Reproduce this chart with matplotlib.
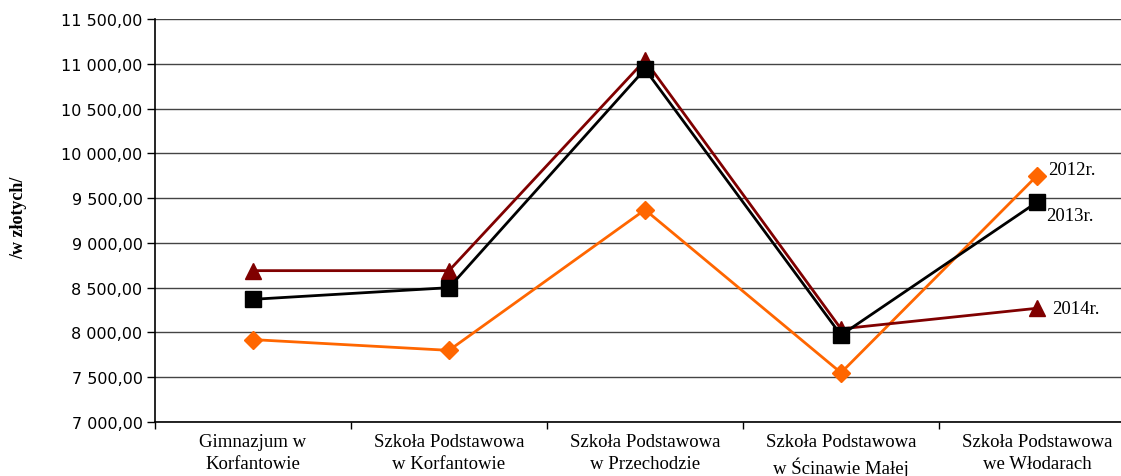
import matplotlib
matplotlib.use("Agg")
import matplotlib.pyplot as plt
from matplotlib.ticker import FuncFormatter, FixedLocator

categories = ["Gimnazjum w\nKorfantowie", "Szkoła Podstawowa\nw Korfantowie",
              "Szkoła Podstawowa\nw Przechodzie", "Szkoła Podstawowa\nw Ścinawie Małej",
              "Szkoła Podstawowa\nwe Włodarach"]
s2012 = [7920, 7800, 9370, 7550, 9750]
s2013 = [8370, 8500, 10940, 7970, 9455]
s2014 = [8690, 8690, 11040, 8040, 8270]
yticks = [7000, 7500, 8000, 8500, 9000, 9500, 10000, 10500, 11000, 11500]

fig = plt.figure(figsize=(11.21, 4.77), dpi=100)
ax = fig.add_axes([155/1121, 1-423/477, 980/1121, 403/477])
x = list(range(len(categories)))

ax.plot(x, s2012, color="#FF6600", lw=2.0, marker="D", ms=9, zorder=3)
ax.plot(x, s2014, color="#800000", lw=2.0, marker="^", ms=12, zorder=4)
ax.plot(x, s2013, color="black", lw=2.0, marker="s", ms=11, zorder=5)

ax.set_xlim(-0.5, 4.5)
ax.set_ylim(7000, 11500)
ax.set_yticks(yticks)
ax.yaxis.set_major_formatter(FuncFormatter(lambda v, p: f"{v:,.2f}".replace(",", " ").replace(".", ",")))
ax.grid(axis="y", color="#444444", lw=1.0, zorder=0)
ax.set_axisbelow(True)

ax.set_xticks(x)
ax.set_xticklabels(categories, family="Liberation Serif", fontsize=13.5, linespacing=1.4)
ax.tick_params(axis="x", which="major", length=0, pad=8)
ax.xaxis.set_minor_locator(FixedLocator([-0.5, 0.5, 1.5, 2.5, 3.5, 4.5]))
ax.tick_params(axis="x", which="minor", length=5, width=1, direction="out")
ax.tick_params(axis="y", length=6, width=1, direction="out", labelsize=11.5, pad=3)
for lab in ax.get_yticklabels():
    lab.set_family("DejaVu Sans")

for sp in ["top", "right"]:
    ax.spines[sp].set_visible(False)
ax.spines["left"].set_linewidth(1.2)
ax.spines["bottom"].set_linewidth(1.2)

fig.text(19/1121, 1-218/477, "/w złotych/", family="Liberation Serif", fontweight="bold",
         fontsize=13, rotation=90, ha="center", va="center")

ax.annotate("2012r.", (4, s2012[4]), xytext=(8, 4.5), textcoords="offset points",
            family="Liberation Serif", fontsize=13.5, va="center", ha="left")
ax.annotate("2013r.", (4, s2013[4]), xytext=(6.5, -9.5), textcoords="offset points",
            family="Liberation Serif", fontsize=13.5, va="center", ha="left")
ax.annotate("2014r.", (4, s2014[4]), xytext=(11, 0), textcoords="offset points",
            family="Liberation Serif", fontsize=13.5, va="center", ha="left")

fig.savefig("out.png", dpi=100)
